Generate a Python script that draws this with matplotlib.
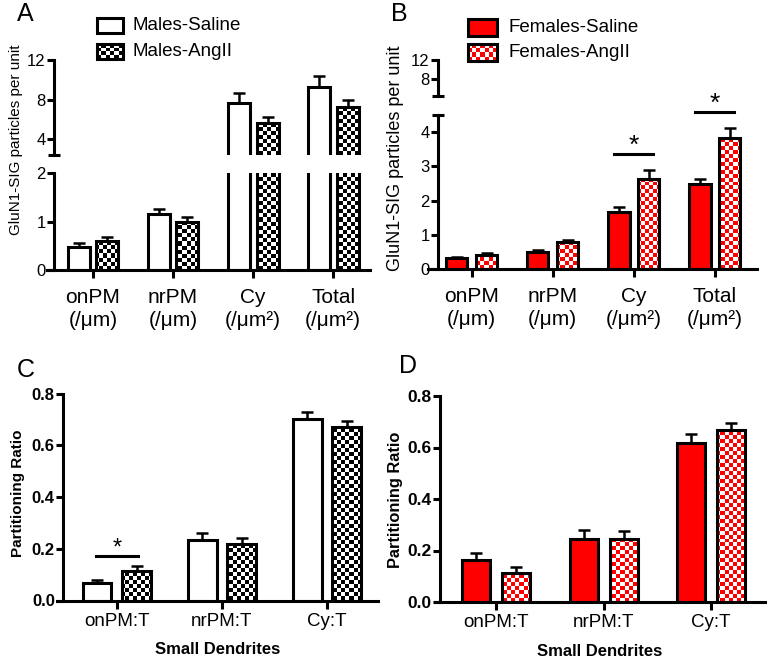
import numpy as np
import matplotlib
matplotlib.use('Agg')
import matplotlib.pyplot as plt
from matplotlib.colors import ListedColormap
from matplotlib.patches import Rectangle

plt.rcParams['font.family'] = ['Liberation Sans', 'DejaVu Sans']

# ---- data ----
groups_ab = ['onPM\n(/μm)', 'nrPM\n(/μm)', 'Cy\n(/μm²)', 'Total\n(/μm²)']
groups_cd = ['onPM:T', 'nrPM:T', 'Cy:T']

male_saline = [0.48, 1.15, 7.64, 9.3]
male_saline_sem = [0.08, 0.10, 1.0, 1.1]
male_angii = [0.60, 1.00, 5.68, 7.3]
male_angii_sem = [0.09, 0.10, 0.6, 0.67]

female_saline = [0.32, 0.50, 1.67, 2.49]
female_saline_sem = [0.04, 0.05, 0.15, 0.15]
female_angii = [0.42, 0.78, 2.64, 3.83]
female_angii_sem = [0.05, 0.07, 0.25, 0.29]

male_ratio_saline = [0.069, 0.233, 0.703]
male_ratio_saline_sem = [0.011, 0.026, 0.027]
male_ratio_angii = [0.114, 0.220, 0.670]
male_ratio_angii_sem = [0.018, 0.020, 0.025]

female_ratio_saline = [0.165, 0.246, 0.617]
female_ratio_saline_sem = [0.026, 0.032, 0.037]
female_ratio_angii = [0.114, 0.246, 0.667]
female_ratio_angii_sem = [0.020, 0.028, 0.027]

sig_B = [2, 3]   # Cy, Total
sig_C = [0]      # onPM:T

RED = '#ff0000'
W, H = 771, 667
LW = 2.2
CELL = 4

fig = plt.figure(figsize=(W / 100, H / 100), dpi=100)


def px_axes(x0, y0, x1, y1):
    return fig.add_axes([x0 / W, 1 - y1 / H, (x1 - x0) / W, (y1 - y0) / H])


def fig_text(x, y, s, **kw):
    return fig.text(x / W, 1 - y / H, s, **kw)


def checker(ax, color):
    bb = ax.get_position()
    nx = int(round(bb.width * W / CELL))
    ny = int(round(bb.height * H / CELL))
    grid = np.indices((ny, nx)).sum(axis=0) % 2
    return ax.imshow(grid, cmap=ListedColormap(['white', color]), extent=(0, 1, 0, 1),
                     transform=ax.transAxes, origin='lower', aspect='auto',
                     interpolation='nearest', zorder=2.5)


def draw_bars(ax, x, vals, sem, face, width, check=None):
    ax.errorbar(x, vals, yerr=[np.zeros(len(vals)), sem], fmt='none', ecolor='black',
                elinewidth=1.8, capsize=4, capthick=1.8, zorder=1)
    bars = ax.bar(x, vals, width, color=face, edgecolor='none', zorder=2)
    if check:
        for b in bars:
            checker(ax, check).set_clip_path(b)
    ax.bar(x, vals, width, facecolor='none', edgecolor='black', linewidth=LW, zorder=3)


def style(ax, xlim, ylim, frac):
    ax.set_xlim(xlim)
    ax.set_ylim(ylim)
    ax.patch.set_visible(False)
    for s in ['top', 'right']:
        ax.spines[s].set_visible(False)
    ax.spines['left'].set_position(('axes', frac))
    ax.spines['left'].set_linewidth(LW)
    ax.spines['bottom'].set_linewidth(LW)
    ax.tick_params(axis='y', width=LW, length=5, pad=1)
    ax.tick_params(axis='x', width=LW, length=5.8)


def sig(ax, xc, half, y, size):
    ax.plot([xc - half, xc + half], [y, y], color='black', lw=LW, clip_on=False, zorder=4)
    ax.annotate('*', (xc, y), xytext=(0, 0.7), textcoords='offset points', ha='center',
                va='baseline', fontsize=size, annotation_clip=False)


# ---- panel A / B (broken y axes) ----
def broken(hi_px, lo_px, xlim, frac, hi_lim, lo_lim, hi_ticks, lo_ticks,
           sal, sal_sem, ang, ang_sem, sal_face, check, off, width):
    ax_hi = px_axes(*hi_px)
    ax_lo = px_axes(*lo_px)
    x = np.arange(len(sal))
    for ax in (ax_hi, ax_lo):
        draw_bars(ax, x - off, sal, sal_sem, sal_face, width)
        draw_bars(ax, x + off, ang, ang_sem, 'white', width, check)
    style(ax_hi, xlim, hi_lim, frac)
    style(ax_lo, xlim, lo_lim, frac)
    ax_hi.spines['bottom'].set_visible(False)
    ax_hi.set_xticks([])
    ax_hi.set_yticks(hi_ticks)
    ax_hi.set_yticks([hi_lim[0]], minor=True)
    ax_lo.set_yticks(lo_ticks)
    ax_lo.set_yticks([lo_lim[1]], minor=True)
    for ax in (ax_hi, ax_lo):
        ax.tick_params(axis='y', which='minor', direction='inout', length=9, width=LW)
        ax.tick_params(axis='y', labelsize=12)
    ax_lo.set_xticks(x)
    ax_lo.set_xticklabels(groups_ab, fontsize=15, linespacing=1.25)
    ax_lo.tick_params(axis='x', length=5.8, pad=7)
    return ax_hi, ax_lo


axA_hi, axA_lo = broken((47, 60, 370, 155), (47, 173, 370, 270), (-0.575, 3.46), 0.022,
                        (2.4, 12), (0, 2), [4, 8, 12], [0, 1, 2],
                        male_saline, male_saline_sem, male_angii, male_angii_sem,
                        'white', 'black', 0.18, 0.275)

axB_hi, axB_lo = broken((428, 60, 757, 96), (428, 115, 757, 269), (-0.54, 3.52), 0.030,
                        (4.5, 12), (0, 4.5), [8, 12], [0, 1, 2, 3, 4],
                        female_saline, female_saline_sem, female_angii, female_angii_sem,
                        RED, RED, 0.183, 0.26)
for i in sig_B:
    top = max(female_saline[i] + female_saline_sem[i], female_angii[i] + female_angii_sem[i])
    sig(axB_lo, i, 0.24, top + 0.47, 19)


# ---- panel C / D ----
def ratio_panel(px, xlim, frac, sal, sal_sem, ang, ang_sem, sal_face, check, off, width, fs):
    ax = px_axes(*px)
    x = np.arange(len(sal))
    draw_bars(ax, x - off, sal, sal_sem, sal_face, width)
    draw_bars(ax, x + off, ang, ang_sem, 'white', width, check)
    style(ax, xlim, (0, 0.8), frac)
    ax.set_yticks([0, 0.2, 0.4, 0.6, 0.8])
    ax.set_yticklabels(['0.0', '0.2', '0.4', '0.6', '0.8'], fontsize=fs, fontweight='bold')
    ax.set_xticks(x)
    ax.set_xticklabels(groups_cd, fontsize=13.5)
    ax.tick_params(axis='x', pad=3)
    ax.set_xlabel('Small Dendrites', fontsize=12, fontweight='bold', labelpad=9)
    return ax


axC = ratio_panel((57, 393.5, 378, 600.5), (-0.571, 2.486), 0.019,
                  male_ratio_saline, male_ratio_saline_sem, male_ratio_angii, male_ratio_angii_sem,
                  'white', 'black', 0.19, 0.276, 12)
for i in sig_C:
    top = max(male_ratio_saline[i] + male_ratio_saline_sem[i],
              male_ratio_angii[i] + male_ratio_angii_sem[i])
    sig(axC, i, 0.2, top + 0.04, 17)

axD = ratio_panel((435, 396, 765, 602), (-0.567, 2.50), 0.015,
                  female_ratio_saline, female_ratio_saline_sem, female_ratio_angii,
                  female_ratio_angii_sem, RED, RED, 0.186, 0.26, 12.5)

# ---- labels ----
fig_text(16, 140, 'GluN1-SIG particles per unit', rotation=90, ha='center', va='center', fontsize=11)
fig_text(396, 158, 'GluN1-SIG particles per unit', rotation=90, ha='center', va='center', fontsize=13)
fig_text(18, 493, 'Partitioning Ratio', rotation=90, ha='center', va='center',
         fontsize=11, fontweight='bold')
fig_text(396, 500, 'Partitioning Ratio', rotation=90, ha='center', va='center',
         fontsize=11.8, fontweight='bold')
for lab, (x, y) in zip('ABCD', [(25, 14), (399, 14), (26, 370), (408, 366)]):
    fig_text(x, y, lab, ha='center', va='center', fontsize=18)

# ---- legends (drawn on a pixel overlay) ----
lg = fig.add_axes([0, 0, 1, 1])
legend_items = [
    ((97, 18, 26, 15), 'white', None, 'Males-Saline', 133),
    ((97, 44, 26, 15), 'white', 'black', 'Males-AngII', 133),
    ((468, 19, 29, 17), RED, None, 'Females-Saline', 508),
    ((468, 44, 29, 17), 'white', RED, 'Females-AngII', 508),
]
for (x0, y0, w, h), face, check, text, tx in legend_items:
    if check:
        nx, ny = int(round(w / CELL)), int(round(h / CELL))
        grid = np.indices((ny, nx)).sum(axis=0) % 2
        lg.imshow(grid, cmap=ListedColormap(['white', check]), extent=(x0, x0 + w, y0 + h, y0),
                  aspect='auto', interpolation='nearest', zorder=1)
        face = 'none'
    lg.add_patch(Rectangle((x0, y0), w, h, facecolor=face, edgecolor='black', lw=LW, zorder=2))
    lg.text(tx, y0 + h / 2, text, va='center', ha='left', fontsize=13.5)
lg.set_xlim(0, W)
lg.set_ylim(H, 0)
lg.axis('off')

fig.savefig('out.png', dpi=100)
